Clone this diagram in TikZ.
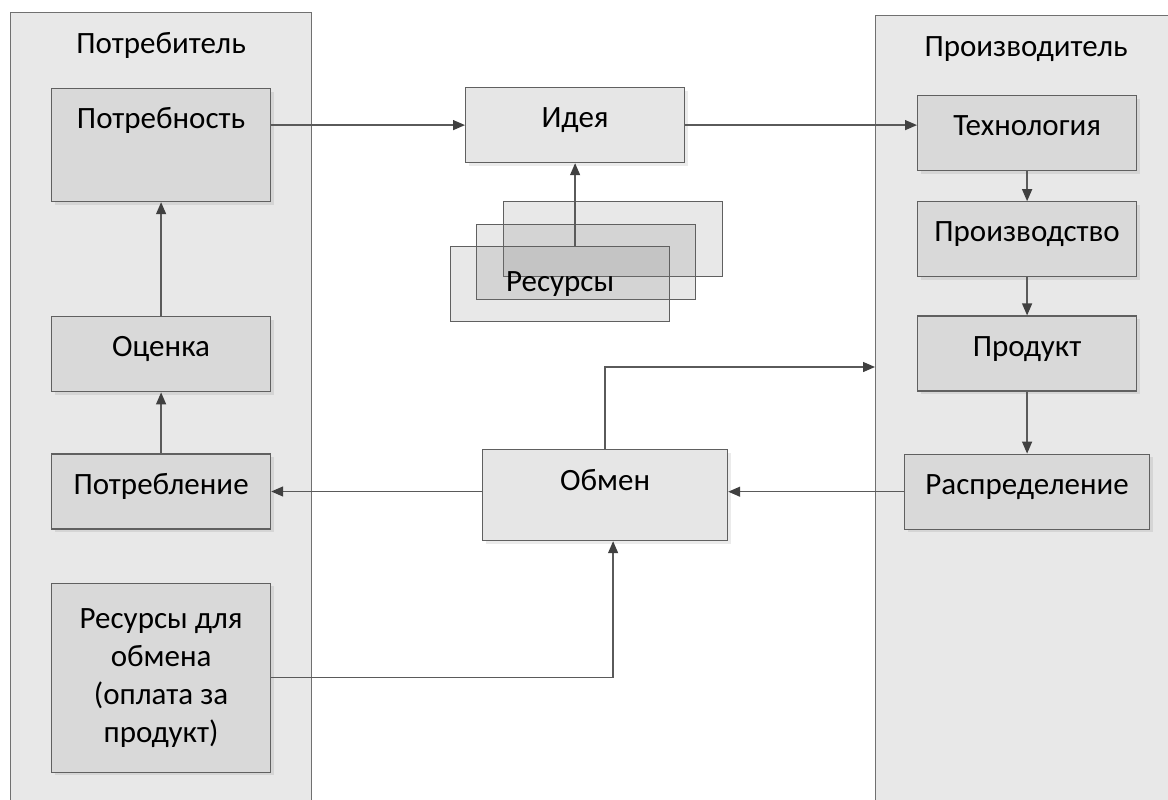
\documentclass[tikz,border=0pt]{standalone}
\usepackage{fontspec}
\setmainfont{Carlito}
\usepackage{tikz}
\usetikzlibrary{positioning}
\usetikzlibrary{arrows.meta}
\usetikzlibrary{shadows}
\definecolor{lanefill}{HTML}{E8E8E8}
\definecolor{lanedraw}{HTML}{707070}
\definecolor{blockfill}{HTML}{D9D9D9}
\definecolor{ideafill}{HTML}{E6E6E6}
\definecolor{boxdraw}{HTML}{606060}
\definecolor{linecol}{HTML}{5A5A5A}
\definecolor{tipcol}{HTML}{404040}
\tikzstyle{lane} = [rectangle, draw=lanedraw, fill=lanefill, line width=1.2pt, minimum width=301pt, inner sep=0pt, text height=41pt, text depth=760pt, font=\fontsize{31}{38}\selectfont]
\tikzstyle{block} = [rectangle, draw=boxdraw, fill=blockfill, line width=1.2pt, minimum width=219pt, inner sep=0pt, text height=40pt, text depth=35pt, font=\fontsize{31}{38}\selectfont, drop shadow={shadow xshift=3pt, shadow yshift=-3pt, opacity=0.08, fill=black}]
\tikzstyle{ideabox} = [block, fill=ideafill]
\tikzstyle{paybox} = [rectangle, draw=boxdraw, fill=blockfill, line width=1.2pt, minimum width=219pt, minimum height=189pt, inner sep=0pt, align=center, font=\fontsize{31}{38}\selectfont, drop shadow={shadow xshift=3pt, shadow yshift=-3pt, opacity=0.08, fill=black}]
\tikzstyle{stack} = [rectangle, draw=boxdraw, fill=black!54, fill opacity=0.17, text opacity=1, line width=1.2pt, minimum width=219pt, minimum height=75pt, inner sep=0pt, font=\fontsize{31}{38}\selectfont]
\tikzstyle{arrow} = [draw=linecol, line width=1.3pt, -{Triangle[length=12pt, width=10pt, color=tipcol]}]

\begin{document}
\begin{tikzpicture}[x=1pt, y=-1pt]
    \useasboundingbox (0,0) rectangle (1168,800);
    \clip (0,0) rectangle (1168,800);

    % lanes
    \node (consumer) [lane, anchor=north west] at (10,12) {Потребитель};
    \node (producer) [lane, anchor=north west] at (875,15) {Производитель};

    % consumer side
    \node (need) [block, anchor=north west, text depth=73pt] at (51,88) {Потребность};
    \node (rating) [block, below=114pt of need] {Оценка};
    \node (usage) [block, below=61pt of rating] {Потребление};
    \node (payment) [paybox, below=53pt of usage] {Ресурсы для\\обмена\\(оплата за\\продукт)};

    % middle
    \node (idea) [ideabox, anchor=north west] at (465,87) {Идея};
    \node (res3) [stack, anchor=north west] at (503,201) {};
    \node (res2) [stack, anchor=north west] at (476,224) {};
    \node (res1) [stack, anchor=north west] at (450,246) {Ресурсы};
    \node (exchange) [ideabox, anchor=north west, minimum width=245pt, text height=41pt, text depth=50pt] at (482,449) {Обмен};

    % producer side
    \node (tech) [block, anchor=north west] at (917,95) {Технология};
    \node (making) [block, below=30pt of tech] {Производство};
    \node (product) [block, below=38pt of making] {Продукт};
    \node (distrib) [block, minimum width=245pt, below=62pt of product] {Распределение};

    \draw [arrow] (need.east |- idea.west) -- (idea.west);
    \draw [arrow] (idea.east) -- (idea.east -| tech.west);
    \draw [arrow] (res1.north -| idea.south) -- (idea.south);
    \draw [arrow] (usage) -- (rating);
    \draw [arrow] (rating) -- (need);
    \draw [arrow] (tech) -- (making);
    \draw [arrow] (making) -- (product);
    \draw [arrow] (product) -- (distrib);
    \draw [arrow] (distrib.west) -- (distrib.west -| exchange.east);
    \draw [arrow] (exchange.west |- usage.east) -- (usage.east);
    \draw [arrow] (exchange.north) -- ++(0,-82) coordinate (turn) -- (turn -| producer.west);
    \draw [arrow] (payment.east) -| ([xshift=8pt]exchange.south);
\end{tikzpicture}
\end{document}
